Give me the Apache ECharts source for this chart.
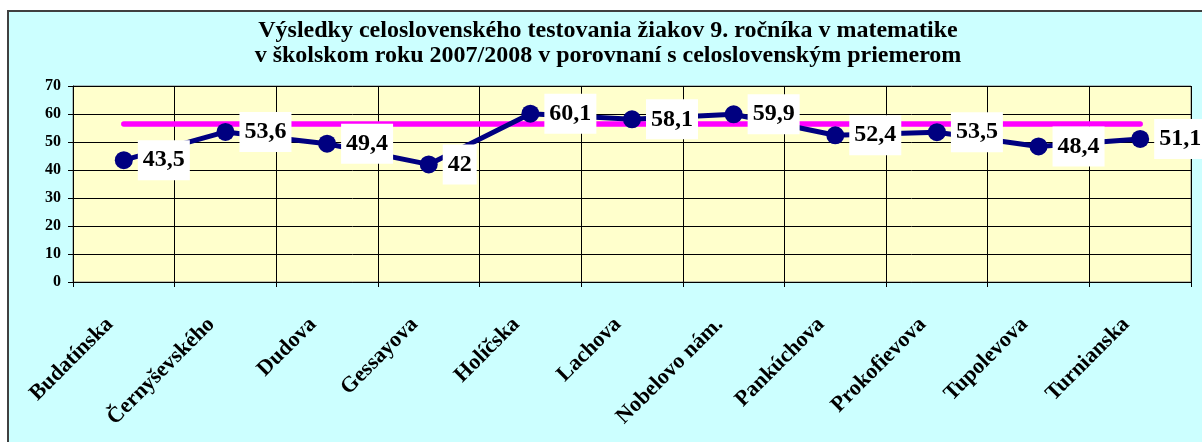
<!DOCTYPE html>
<html><head><meta charset="utf-8">
<script src="https://cdn.jsdelivr.net/npm/echarts@6/dist/echarts.min.js"></script>
<style>html,body{margin:0;padding:0;background:#fff}#c{width:1202px;height:442px}</style>
</head><body><div id="c"></div>
<script>
const titleLines = ['Výsledky celoslovenského testovania žiakov 9. ročníka v matematike', 'v školskom roku 2007/2008 v porovnaní s celoslovenským priemerom'];
const categories = ['Budatínska','Černyševského','Dudova','Gessayova','Holíčska','Lachova','Nobelovo nám.','Pankúchova','Prokofievova','Tupolevova','Turnianska'];
const schoolScores = [43.5, 53.6, 49.4, 42, 60.1, 58.1, 59.9, 52.4, 53.5, 48.4, 51.1];
const nationalAverage = [56.4, 56.4, 56.4, 56.4, 56.4, 56.4, 56.4, 56.4, 56.4, 56.4, 56.4];
const yMin = 0, yMax = 70, yStep = 10;

const FONT = "'Liberation Serif', 'Times New Roman', serif";
const chart = echarts.init(document.getElementById('c'), null, {renderer: 'canvas'});
chart.setOption({
  animation: false,
  backgroundColor: '#ffffff',
  graphic: [{
    type: 'rect', z: -10, silent: true,
    shape: {x: 8, y: 11, width: 1210, height: 445},
    style: {fill: '#CCFFFF', stroke: '#404040', lineWidth: 2}
  }],
  title: {
    text: titleLines.join('\n'),
    left: 608, top: 18, padding: 0,
    textAlign: 'center',
    textStyle: {fontFamily: FONT, fontWeight: 'bold', fontSize: 24, lineHeight: 25, color: '#000'}
  },
  grid: {
    left: 73, right: 11, top: 86, bottom: 160,
    show: true, backgroundColor: '#FFFFCC', borderColor: '#808080', borderWidth: 1
  },
  xAxis: {
    type: 'category', data: categories, boundaryGap: true,
    axisLine: {show: true, lineStyle: {color: '#000', width: 1}},
    axisTick: {show: true, length: 5, lineStyle: {color: '#000'}},
    splitLine: {show: true, lineStyle: {color: '#000', width: 1}},
    axisLabel: {interval: 0, rotate: 45, margin: 25, padding: [0, 20, 0, 0], color: '#000', fontFamily: FONT, fontWeight: 'bold', fontSize: 22}
  },
  yAxis: {
    type: 'value', min: yMin, max: yMax, interval: yStep,
    axisLine: {show: true, lineStyle: {color: '#000', width: 1}},
    axisTick: {show: true, length: 5, lineStyle: {color: '#000'}},
    splitLine: {show: true, lineStyle: {color: '#000', width: 1}},
    axisLabel: {margin: 12, color: '#000', fontFamily: FONT, fontWeight: 'bold', fontSize: 16}
  },
  series: [{
    name: 'celoslovenský priemer', type: 'line', data: nationalAverage,
    symbol: 'none', silent: true, z: 2,
    lineStyle: {color: '#FF00FF', width: 5.5, cap: 'round'}
  }, {
    name: 'škola', type: 'line', data: schoolScores, z: 3,
    symbol: 'circle', symbolSize: 18,
    itemStyle: {color: '#000080'},
    lineStyle: {color: '#000080', width: 5},
    label: {
      show: true, position: 'right', distance: 5,
      backgroundColor: '#ffffff', padding: [8, 5, 8, 5],
      color: '#000', fontFamily: FONT, fontWeight: 'bold', fontSize: 24,
      formatter: p => String(p.value).replace('.', ',')
    }
  }]
});
</script></body></html>
